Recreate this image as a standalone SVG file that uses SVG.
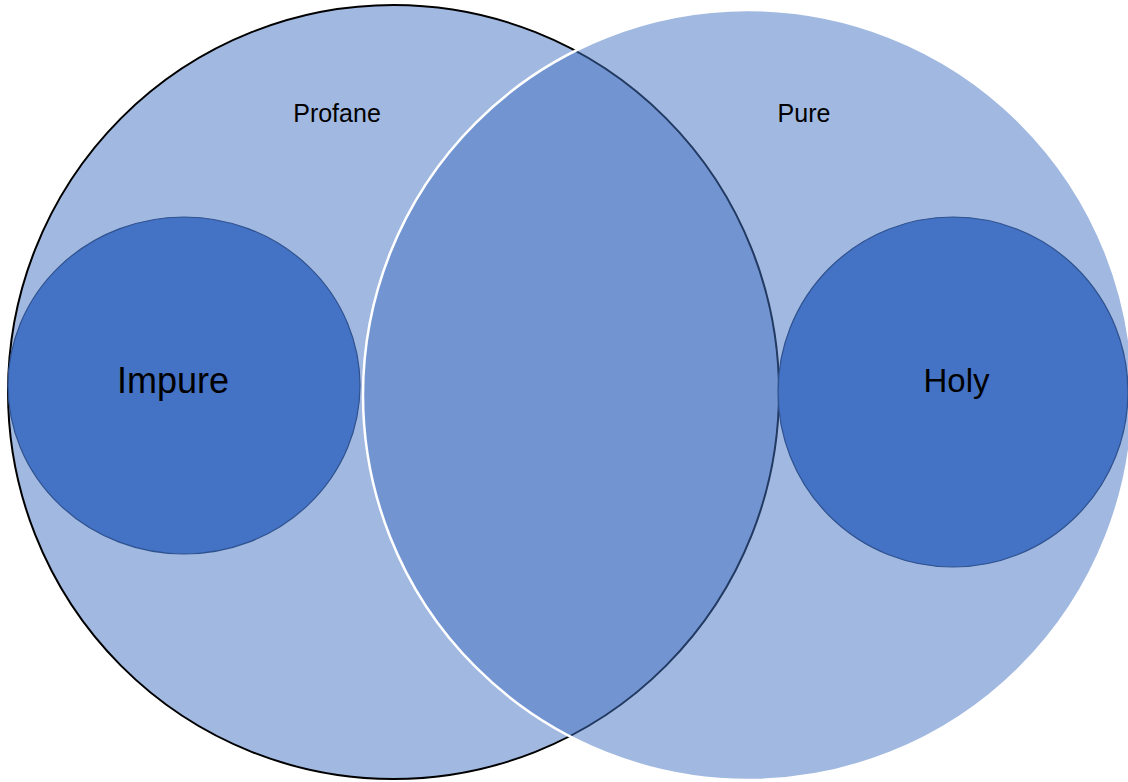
<svg xmlns="http://www.w3.org/2000/svg" width="1128" height="782" viewBox="0 0 1128 782">
  <style>
    .big { fill: #4472C4; fill-opacity: 0.5; }
    .small { fill: #4472C4; stroke: #2F528F; stroke-width: 1.2; }
    .lbl { font-family: "Liberation Sans", Arial, sans-serif; fill: #000; text-anchor: middle; }
    .lg { font-size: 36px; }
    .sm { font-size: 25px; }
  </style>
  <rect width="1128" height="782" fill="#FFFFFF"/>
  <g id="profane">
    <ellipse class="big" cx="393.5" cy="392" rx="385.5" ry="387" stroke="#000000" stroke-width="2"/>
    <text class="lbl sm" x="337" y="122">Profane</text>
  </g>
  <g id="pure">
    <circle class="big" cx="748" cy="395" r="385" stroke="#FFFFFF" stroke-width="2.5"/>
    <text class="lbl sm" x="804" y="122">Pure</text>
  </g>
  <g id="impure">
    <ellipse class="small" cx="184" cy="385.5" rx="176" ry="168.5"/>
    <text class="lbl lg" x="173" y="393">Impure</text>
  </g>
  <g id="holy">
    <ellipse class="small" cx="953" cy="392" rx="175" ry="175"/>
    <text class="lbl" style="font-size:33px" x="956.5" y="392">Holy</text>
  </g>
  <g id="connectors"></g>
</svg>
